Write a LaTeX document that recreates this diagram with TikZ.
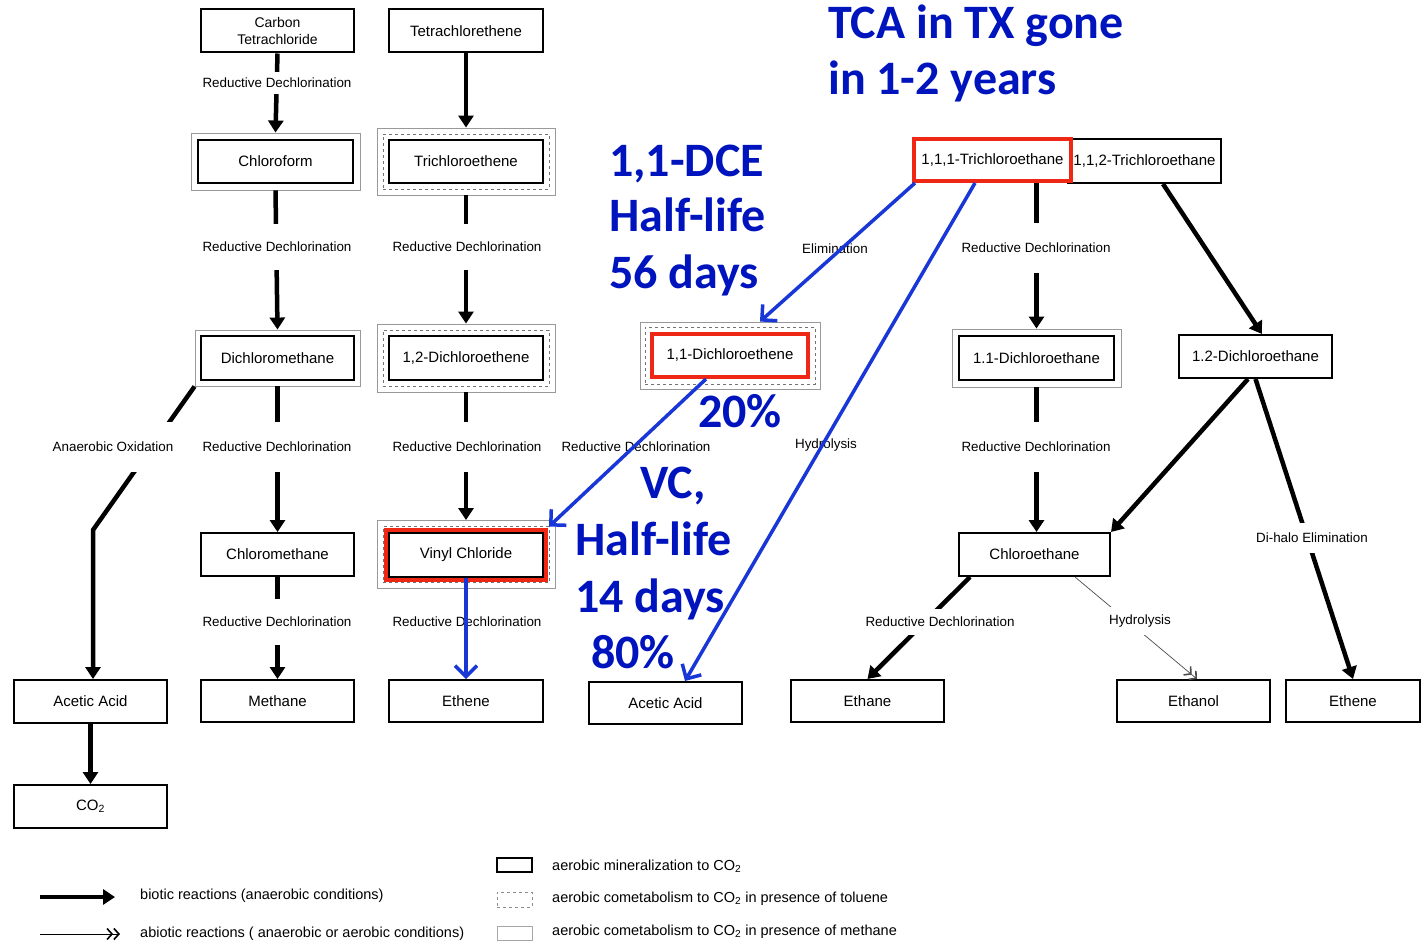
\documentclass[tikz,border=0pt]{standalone}
\usepackage{fontspec}
\setmainfont{Liberation Sans}
\newfontfamily\blfont{Carlito}
\usetikzlibrary{arrows.meta,fit,calc}
\definecolor{hlred}{RGB}{238,40,20}
\definecolor{ablue}{RGB}{25,55,215}
\definecolor{tblue}{RGB}{0,20,190}
\begin{document}
\begin{tikzpicture}[x=1pt,y=-1pt,
  box/.style={draw,line width=2pt,minimum width=153pt,minimum height=43pt,inner sep=0pt,fill=white,font=\fontsize{15}{17}\selectfont},
  hl/.style={draw=hlred,line width=4pt},
  outg/.style={draw=black!40,line width=0.9pt,inner sep=#1},
  dsh/.style={draw=black!55,dashed,line width=0.8pt,inner sep=#1},
  lbl/.style={font=\fontsize{13.4}{15}\selectfont,fill=white,inner xsep=1pt,inner ysep=#1},
  lbl/.default=3pt,
  bio/.style={line width=4.5pt,-{Triangle[length=12pt,width=15pt]}},
  abio/.style={line width=0.7pt,-{Straight Barb[length=5pt,width=11pt,line width=1.6pt]Straight Barb[length=5pt,width=11pt,line width=1.6pt]}},
  bl/.style={draw=ablue,line width=3.5pt,-{Straight Barb[length=11pt,width=22pt,line width=3.5pt]}},
  big/.style={font=\blfont\bfseries\fontsize{48}{56}\selectfont,text=tblue,anchor=base west,inner sep=0pt},
  leg/.style={font=\fontsize{14.5}{16}\selectfont,anchor=west,inner sep=0pt}
]
\useasboundingbox[fill=white] (0,0) rectangle (1422,942);

% ---------- nodes ----------
\node[box,align=center,font=\fontsize{14}{17}\selectfont] (ct) at (277.5,31) {Carbon\\Tetrachloride};
\node[box,minimum width=154pt] (pce) at (466,31) {Tetrachlorethene};

\node[box,minimum width=155pt] (cf) at (275.5,161.5) {Chloroform};
\node[outg=6pt,fit=(cf)] (cfO) {};

\node[box,minimum width=154pt] (tce) at (466,161.5) {Trichloroethene};
\node[dsh=5pt,fit=(tce)] (tceD) {};
\node[outg=11pt,fit=(tce)] (tceO) {};

\node[box,minimum height=44pt] (dcm) at (277.5,358) {Dichloromethane};
\node[outg=5pt,fit=(dcm)] (dcmO) {};

\node[box,minimum width=154pt,minimum height=44pt] (dce12) at (466,358) {1,2-Dichloroethene};
\node[dsh=5pt,fit=(dce12)] (dce12D) {};
\node[outg=11pt,fit=(dce12)] (dce12O) {};

\node[box,hl,minimum width=156pt] (dce11) at (730,355.5) {1,1-Dichloroethene};
\node[dsh=5pt,fit=(dce11)] (dce11D) {};
\node[outg=10pt,fit=(dce11)] (dce11O) {};

\node[box,minimum height=44pt] (tca112) at (1144.5,161) {1,1,2-Trichloroethane};
\node[box,hl,minimum width=157pt,minimum height=42pt] (tca111) at (992.5,160) {1,1,1-Trichloroethane};

\node[box,minimum width=155pt,minimum height=44pt] (dca11) at (1036.5,358) {1.1-Dichloroethane};
\node[outg=6pt,fit=(dca11)] (dca11O) {};

\node[box] (dca12) at (1255.5,356.5) {1.2-Dichloroethane};

\node[box] (cm) at (277.5,554.5) {Chloromethane};

\node[box,minimum width=154pt,minimum height=44pt] (vc) at (466,554.5) {Vinyl Chloride};
\node[dsh=5pt,fit=(vc)] (vcD) {};
\node[outg=11pt,fit=(vc)] (vcO) {};
\node[hl,inner sep=2pt,fit=(vc)] (vcR) {};

\node[box,minimum width=151pt] (ce) at (1034.5,554.5) {Chloroethane};

\node[box] (aa1) at (90.5,701.5) {Acetic Acid};
\node[box,minimum height=42pt] (meth) at (277.5,701) {Methane};
\node[box,minimum width=154pt,minimum height=42pt] (eth1) at (466,701) {Ethene};
\node[box,minimum height=42pt] (aa2) at (665.5,703) {Acetic Acid};
\node[box,minimum height=42pt] (ethane) at (867.5,701) {Ethane};
\node[box,minimum height=42pt] (ethanol) at (1193.5,701) {Ethanol};
\node[box,minimum width=134pt,minimum height=42pt] (eth2) at (1353,701) {Ethene};
\node[box] (co2) at (90.5,806.5) {CO\textsubscript{2}};

% ---------- black connectors ----------
\draw[bio] (ct.south) -- (cfO.north);
\draw[bio] (pce.south) -- (tceO.north);
\draw[bio] (cfO.south) -- (dcmO.north);
\draw[bio] (tceO.south) -- (dce12O.north);
\draw[bio] (dcmO.south) -- (cm.north);
\draw[bio] (dce12O.south) -- (vcO.north);
\coordinate (bend) at (93,530);
\draw[bio] (dcmO.south west) -- (bend) -- (bend |- aa1.north);
\draw[bio] (cm.south) -- (meth.north);
\draw[bio] (aa1.south) -- (co2.north);
\draw[bio] (dca11 |- tca111.south) -- (dca11O.north);
\draw[bio] ([xshift=18.5pt]tca112.south) -- ([xshift=6.5pt]dca12.north);
\draw[bio] (dca11O.south) -- (dca11O.south |- ce.north);
\draw[bio] ([xshift=-7.5pt]dca12.south) -- (ce.north east);
\draw[bio] (dca12.south) -- (eth2.north);
\draw[bio] ([xshift=-64.5pt]ce.south) -- (ethane.north);
\draw[abio,draw=black!70] ([xshift=40.5pt]ce.south) -- ([xshift=3.5pt]ethanol.north);

% ---------- labels ----------
\node[lbl=6pt] (l1) at (277,83) {Reductive Dechlorination};
\node[lbl=18pt] (l2) at (277,247) {Reductive Dechlorination};
\node[lbl=18pt] (l3) at (467,247) {Reductive Dechlorination};
\node[lbl=20pt] (l4) at (277,447) {Reductive Dechlorination};
\node[lbl=20pt] (l5) at (467,447) {Reductive Dechlorination};
\node[lbl=20pt] (l6) at (113,447) {Anaerobic Oxidation};
\node[lbl=18pt] (l7) at (277,622) {Reductive Dechlorination};
\node[lbl=3pt] (l8) at (467,622) {Reductive Dechlorination};
\node[lbl=3pt] (l9) at (636,447) {Reductive Dechlorination};
\node[lbl=3pt] (l10) at (835,249) {Elimination};
\node[lbl=3pt] (l11) at (826,445) {Hydrolysis};
\node[lbl=20pt] (l12) at (1036,248) {Reductive Dechlorination};
\node[lbl=20pt] (l13) at (1036,447) {Reductive Dechlorination};
\node[lbl=10pt] (l14) at (1312,538) {Di-halo Elimination};
\node[lbl=8pt] (l15) at (940,622) {Reductive Dechlorination};
\node[lbl=8pt] (l16) at (1140,621) {Hydrolysis};

% ---------- blue connectors ----------
\draw[bl] ([xshift=3pt]tca111.south west) -- ([xshift=30pt]dce11O.north);
\draw[bl] ([xshift=-17.5pt]tca111.south) -- ([xshift=19.5pt]aa2.north);
\draw[bl] ([xshift=-24pt]dce11.south) -- ([shift={(5pt,5pt)}]vc.north east);
\draw[bl] (vc.south) -- (eth1.north);

% ---------- blue texts ----------
\node[big] (t1) at (828,39) {TCA in TX gone};
\node[big] (t2) at (828,95) {in 1-2 years};
\node[big] (t3) at (609,176) {1,1-DCE};
\node[big] (t4) at (609,231) {Half-life};
\node[big] (t5) at (609,288) {56 days};
\node[big] (t6) at (698,427) {20\%};
\node[big] (t7) at (640,498) {VC,};
\node[big] (t8) at (575,555) {Half-life};
\node[big] (t9) at (575,612) {14 days};
\node[big] (t10) at (591,668) {80\%};

% ---------- legend ----------
\coordinate (la1) at (40,897);
\coordinate (la2) at (115,897);
\draw[bio] (la1) -- (la2);
\node[leg] (lt1) at (140,896) {biotic reactions (anaerobic conditions)};
\coordinate (lb1) at (40,934);
\coordinate (lb2) at (120,934);
\draw[abio] (lb1) -- (lb2);
\node[leg] (lt2) at (140,934) {abiotic reactions ( anaerobic or aerobic conditions)};
\node[draw,line width=2pt,minimum width=35pt,minimum height=14pt,inner sep=0pt] (lk1) at (514.5,865) {};
\node[draw=black!45,dashed,line width=0.8pt,minimum width=35pt,minimum height=15pt,inner sep=0pt] (lk2) at (514.5,899.5) {};
\node[draw=black!35,line width=1pt,minimum width=35pt,minimum height=14pt,inner sep=0pt] (lk3) at (514.5,933) {};
\node[leg] (lt3) at (552,866) {aerobic mineralization to CO\textsubscript{2}};
\node[leg] (lt4) at (552,899) {aerobic cometabolism to CO\textsubscript{2} in presence of toluene};
\node[leg] (lt5) at (552,932) {aerobic cometabolism to CO\textsubscript{2} in presence of methane};
\end{tikzpicture}
\end{document}
